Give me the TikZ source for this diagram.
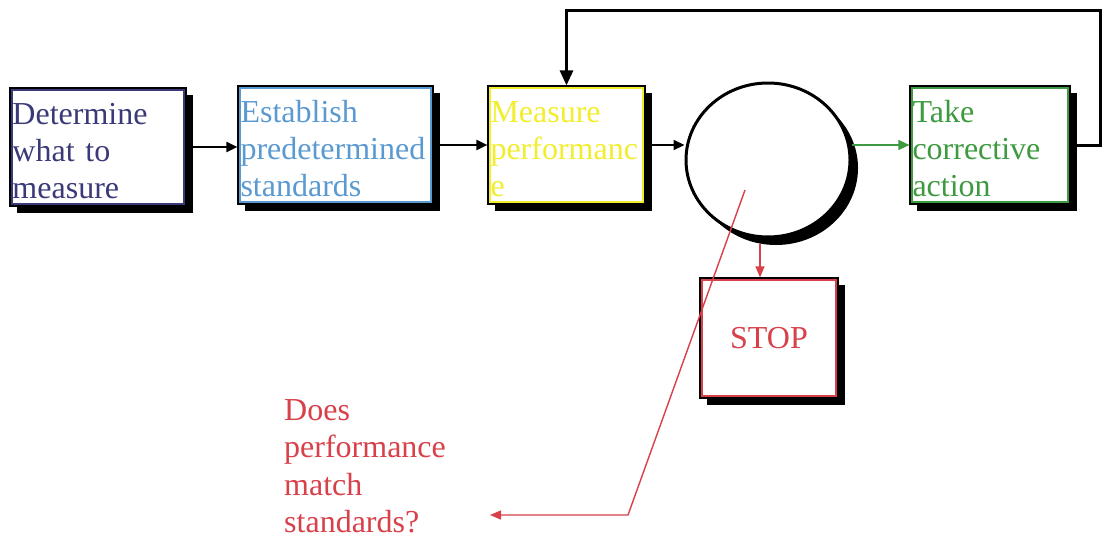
\documentclass[tikz,border=0pt]{standalone}
\usepackage{fontspec}
\setmainfont{Liberation Serif}
\usetikzlibrary{shadows,shapes.geometric,arrows.meta}
\definecolor{det}{HTML}{3A3A78}
\definecolor{est}{HTML}{5A9AD0}
\definecolor{mea}{HTML}{F2EE2E}
\definecolor{tak}{HTML}{3E9A40}
\definecolor{stp}{HTML}{D8404A}
\begin{document}
\begin{tikzpicture}[x=1pt,y=-1pt,
  box/.style={rectangle, fill=white, draw=black, line width=1.2pt,
    minimum height=118pt, inner xsep=2.5pt, inner ysep=0pt, align=left,
    text=#1, font=\fontsize{32}{37}\selectfont,
    general shadow={fill=black, shadow xshift=7pt, shadow yshift=-7pt},
    path picture={\draw[#1, line width=2pt]
      ([shift={(1.8pt,-1.8pt)}]path picture bounding box.north west) rectangle
      ([shift={(-1.8pt,1.8pt)}]path picture bounding box.south east);}},
  arr/.style={-{Triangle[length=11pt,width=10pt]}, line width=2pt},
  fbarr/.style={-{Triangle[length=15pt,width=13pt]}, line width=3pt},
  redarr/.style={stp, -{Triangle[length=11pt,width=9pt]}, line width=1.4pt}
]
\fill[white] (0,0) rectangle (1107,538);
\useasboundingbox (0,0) rectangle (1107,538);

\node[box=det, text width=171pt] (b1) at (98,147) {\rule{0pt}{30pt}Determine\\what to\\measure};
\node[box=est, text width=190pt] (b2) at (335.5,145) {\rule{0pt}{30pt}Establish\\predetermined\\standards};
\node[box=mea, text width=152pt] (b3) at (566.5,145) {\rule{0pt}{30pt}Measure\\performanc\\e};
\node[box=tak, text width=155pt] (b4) at (990,145) {\rule{0pt}{30pt}Take\\corrective\\action};
\node[box=stp, text width=133pt, minimum height=120pt, align=center] (stop) at (769,338) {STOP};

\node[ellipse, draw=black, line width=3pt, fill=white, minimum width=164pt, minimum height=154pt,
  general shadow={fill=black, shadow xshift=8pt, shadow yshift=-8pt}] (circ) at (768,160) {};

\node[anchor=north west, align=left, text=stp, inner sep=0pt,
  font=\fontsize{32}{37.5}\selectfont] (q) at (284,399) {Does\\performance\\match\\standards?};

\draw[arr] (b1.east |- b1.east) -- (b2.west |- b1.east);
\draw[arr] (b2.east) -- (b3.west);
\draw[arr] (b3.east) -- (b3.east -| circ.west);
\draw[arr, tak, line width=1.5pt] (circ.east |- b4.west) -- (b4.west);

\coordinate (fb) at (1100,10);
\draw[fbarr] (b4.east) -| (fb) -| (b3.north);

\coordinate (sa) at (760,244);
\draw[redarr] (sa) -- (sa |- stop.north);

\coordinate (rs) at (745,190);
\coordinate (bend) at (628,515);
\coordinate (tip) at (490,515);
\draw[redarr] (rs) -- (bend) -- (tip);
\end{tikzpicture}
\end{document}
